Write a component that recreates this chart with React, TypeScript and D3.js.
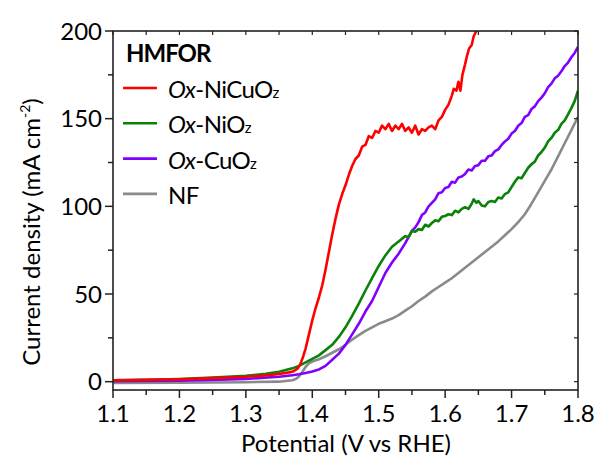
import React from "react";
import * as d3 from "d3";

// Linear sweep voltammetry curves, potential (V vs RHE) -> current density (mA cm-2)
const niCuPotential = [1.10, 1.15, 1.20, 1.25, 1.30, 1.33, 1.35, 1.365, 1.372, 1.378, 1.382, 1.386, 1.390, 1.395, 1.400, 1.405, 1.410, 1.415, 1.420, 1.425, 1.430, 1.435, 1.440, 1.445, 1.450, 1.455, 1.460, 1.465, 1.470, 1.475, 1.480, 1.485, 1.490, 1.495, 1.500, 1.505, 1.510, 1.515, 1.520, 1.525, 1.530, 1.535, 1.540, 1.545, 1.550, 1.555, 1.560, 1.565, 1.570, 1.575, 1.580, 1.585, 1.590, 1.595, 1.600, 1.605, 1.610, 1.613, 1.617, 1.620, 1.623, 1.626, 1.630, 1.633, 1.636, 1.640, 1.643, 1.647, 1.650];
const niCuCurrent = [0.8, 1.0, 1.4, 2.0, 2.8, 3.6, 4.4, 5.3, 6.0, 7.5, 10, 14, 19, 27, 35, 42, 48, 55, 64, 74, 84, 93, 101, 107, 112, 118, 123, 127, 129, 134, 135, 140, 139, 143, 142, 146, 144, 147, 143, 146, 144, 147, 143, 145, 142, 146, 141, 144, 143, 145, 146, 144, 149, 151, 155, 158, 163, 167, 166, 171, 166, 175, 181, 186, 190, 192, 197, 200, 206];

const niPotential = [1.10, 1.15, 1.20, 1.25, 1.30, 1.33, 1.35, 1.37, 1.38, 1.39, 1.40, 1.41, 1.42, 1.43, 1.44, 1.45, 1.46, 1.47, 1.48, 1.49, 1.50, 1.51, 1.52, 1.53, 1.54, 1.545, 1.55, 1.555, 1.56, 1.565, 1.57, 1.575, 1.58, 1.585, 1.59, 1.595, 1.60, 1.605, 1.61, 1.615, 1.62, 1.625, 1.63, 1.635, 1.64, 1.643, 1.647, 1.65, 1.655, 1.66, 1.665, 1.67, 1.675, 1.68, 1.685, 1.69, 1.695, 1.70, 1.705, 1.71, 1.715, 1.72, 1.725, 1.73, 1.735, 1.74, 1.745, 1.75, 1.755, 1.76, 1.765, 1.77, 1.775, 1.78, 1.785, 1.79, 1.795, 1.80];
const niCurrent = [0.8, 1.0, 1.5, 2.3, 3.3, 4.5, 5.6, 7.6, 9, 11, 13, 15, 18, 21, 25.5, 31, 37.5, 44.5, 52, 59, 66, 72, 77, 80, 83, 82.5, 86, 85.5, 87, 86.5, 89.5, 88.5, 90.5, 92, 91.5, 94, 94.5, 95.5, 95, 97.5, 96.5, 98.5, 99.5, 98.5, 101.5, 104, 102, 103, 100.5, 100, 102.5, 103, 102.5, 105, 104.5, 107, 108, 111, 114, 116.5, 116, 119, 122, 124, 125.5, 129, 131, 133.5, 137, 139, 142, 143.5, 147, 149, 152.5, 156, 160, 166];

const cuPotential = [1.10, 1.20, 1.25, 1.30, 1.35, 1.37, 1.38, 1.39, 1.40, 1.41, 1.42, 1.43, 1.44, 1.45, 1.46, 1.47, 1.48, 1.49, 1.50, 1.51, 1.52, 1.53, 1.54, 1.55, 1.555, 1.56, 1.565, 1.57, 1.575, 1.58, 1.585, 1.59, 1.595, 1.60, 1.605, 1.61, 1.615, 1.62, 1.625, 1.63, 1.635, 1.64, 1.645, 1.65, 1.655, 1.66, 1.665, 1.67, 1.675, 1.68, 1.685, 1.69, 1.695, 1.70, 1.705, 1.71, 1.715, 1.72, 1.725, 1.73, 1.735, 1.74, 1.745, 1.75, 1.755, 1.76, 1.765, 1.77, 1.775, 1.78, 1.785, 1.79, 1.795, 1.80];
const cuCurrent = [0.2, 0.6, 1.0, 1.6, 2.8, 3.7, 4.2, 5, 5.8, 7, 9, 12.5, 16, 21, 27, 33, 40, 46, 54, 62, 68, 73, 79, 86, 88, 91, 95, 96.5, 100, 102, 104, 107.5, 108, 110.5, 111, 114, 113.5, 116.5, 117, 118.5, 121, 120.5, 123, 123.5, 126, 126, 128.5, 129, 131.5, 132.5, 135, 137, 138.5, 141.5, 143, 146, 147.5, 151, 152, 155.5, 157, 160, 162, 164.5, 168, 170, 173, 174.5, 177, 180, 182, 185, 187.5, 191];

const nfPotential = [1.10, 1.20, 1.30, 1.35, 1.37, 1.375, 1.38, 1.385, 1.39, 1.395, 1.40, 1.41, 1.42, 1.43, 1.44, 1.45, 1.46, 1.47, 1.48, 1.49, 1.50, 1.51, 1.52, 1.53, 1.54, 1.55, 1.56, 1.57, 1.58, 1.59, 1.60, 1.61, 1.62, 1.63, 1.64, 1.65, 1.66, 1.67, 1.68, 1.69, 1.70, 1.71, 1.72, 1.73, 1.74, 1.75, 1.76, 1.77, 1.78, 1.79, 1.80];
const nfCurrent = [-0.8, -0.6, -0.3, 0, 0.8, 1.5, 3, 5.5, 8.5, 10.5, 11.5, 12.8, 14.5, 16.5, 18.5, 21, 24, 26.5, 29, 31, 33, 34.5, 36, 38, 40.5, 43, 46, 48.5, 51.5, 54, 56.5, 59, 62, 65, 68, 71, 74, 77, 80, 83.5, 87, 91, 95.5, 101.5, 108, 114.5, 121, 128.5, 136, 143.5, 151];

const seriesNames = ["NiCuOz", "NiOz", "CuOz", "NF"];
const seriesColors = ["#ff0000", "#0a820a", "#8000ff", "#8a8a8a"];

const xTickValues = [1.1, 1.2, 1.3, 1.4, 1.5, 1.6, 1.7, 1.8];
const yTickValues = [0, 50, 100, 150, 200];

const W = 599;
const H = 463;
const m = { left: 113, right: 21, top: 31, bottom: 73 };
const FONT = "Lato, 'Noto Sans', sans-serif";

export default function App() {
  const x = d3.scaleLinear().domain([1.1, 1.8]).range([m.left, W - m.right]);
  const y = d3.scaleLinear().domain([-4.75, 200]).range([H - m.bottom, m.top]);
  const x0 = m.left, x1 = W - m.right, y0 = H - m.bottom, y1 = m.top;

  const series = [
    { p: niCuPotential, j: niCuCurrent },
    { p: niPotential, j: niCurrent },
    { p: cuPotential, j: cuCurrent },
    { p: nfPotential, j: nfCurrent },
  ];
  const line = d3
    .line<[number, number]>()
    .x((d) => x(d[0]))
    .y((d) => y(d[1]));

  const xMinor = d3.range(1.1, 1.8001, 0.05);
  const yMinor = d3.range(0, 200.01, 25);
  const axisColor = "#222";

  // draw order: NF at the back, NiCuOz on top
  const drawOrder = [3, 2, 1, 0];

  return (
    <svg
      width={W}
      height={H}
      style={{ position: "absolute", left: 0, top: 0, background: "#fff" }}
      fontFamily={FONT}
    >
      <defs>
        <clipPath id="plotArea">
          <rect x={x0} y={y1} width={x1 - x0} height={y0 - y1} />
        </clipPath>
      </defs>

      {/* curves */}
      <g clipPath="url(#plotArea)">
        {drawOrder.map((i) => (
          <path
            key={i}
            d={line(series[i].p.map((p, k) => [p, series[i].j[k]] as [number, number])) || ""}
            fill="none"
            stroke={seriesColors[i]}
            strokeWidth={2.6}
            strokeLinejoin="round"
          />
        ))}
      </g>

      {/* frame */}
      <rect x={x0} y={y1} width={x1 - x0} height={y0 - y1} fill="none" stroke={axisColor} strokeWidth={1.6} />

      {/* bottom axis ticks (outward) and top ticks (inward) */}
      {xMinor.map((v, i) => {
        const major = i % 2 === 0;
        return (
          <g key={"xt" + i}>
            <line x1={x(v)} x2={x(v)} y1={y0} y2={y0 + (major ? 8 : 5)} stroke={axisColor} strokeWidth={1.5} />
            <line x1={x(v)} x2={x(v)} y1={y1} y2={y1 + 4} stroke={axisColor} strokeWidth={1.2} />
          </g>
        );
      })}
      {xTickValues.map((v) => (
        <text key={"xl" + v} x={x(v)} y={422} textAnchor="middle" fontSize={24} fill="#000">
          {v.toFixed(1)}
        </text>
      ))}

      {/* left axis ticks (outward) and right ticks (inward) */}
      {yMinor.map((v, i) => {
        const major = i % 2 === 0;
        return (
          <g key={"yt" + i}>
            <line x1={x0} x2={x0 - (major ? 8 : 5)} y1={y(v)} y2={y(v)} stroke={axisColor} strokeWidth={1.5} />
            <line x1={x1} x2={x1 - 4} y1={y(v)} y2={y(v)} stroke={axisColor} strokeWidth={1.2} />
          </g>
        );
      })}
      {yTickValues.map((v) => (
        <text key={"yl" + v} x={102} y={y(v) + 8.5} textAnchor="end" fontSize={24} fill="#000">
          {v}
        </text>
      ))}

      {/* axis titles */}
      <text x={346} y={452} textAnchor="middle" fontSize={24} fill="#000">
        Potential (V vs RHE)
      </text>
      <text transform="translate(40,232) rotate(-90)" textAnchor="middle" fontSize={24} fill="#000">
        Current density (mA cm
        <tspan fontSize={14} dy={-10}>-2</tspan>
        <tspan dy={10}>)</tspan>
      </text>

      {/* legend */}
      <text x={126} y={62} fontSize={24} fontWeight="bold" letterSpacing={-1} fill="#000">
        HMFOR
      </text>
      {seriesNames.map((name, i) => {
        const ly = 88 + i * 35.3;
        return (
          <g key={"lg" + i}>
            <line x1={123} x2={157} y1={ly} y2={ly} stroke={seriesColors[i]} strokeWidth={2.6} />
            <text x={168} y={ly + 10} fontSize={24} fill="#000" letterSpacing={-0.6}>
              {name === "NF" ? (
                "NF"
              ) : (
                <>
                  <tspan fontStyle="italic">Ox</tspan>
                  <tspan>-{name.slice(0, -1)}</tspan>
                  <tspan fontSize={15}>z</tspan>
                </>
              )}
            </text>
          </g>
        );
      })}
    </svg>
  );
}
